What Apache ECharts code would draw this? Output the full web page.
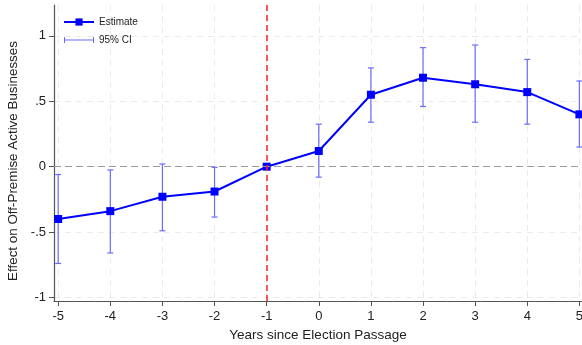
<!DOCTYPE html>
<html>
<head>
<meta charset="utf-8">
<script src="https://cdn.jsdelivr.net/npm/echarts@6/dist/echarts.min.js"></script>
<style>
  html, body { margin: 0; padding: 0; background: #fff; }
  #chart { width: 582px; height: 345px; }
</style>
</head>
<body>
<div id="chart"></div>
<script>
// Event-study estimates: years relative to election passage
const years = [-5, -4, -3, -2, -1, 0, 1, 2, 3, 4, 5];
const estimate = [-0.40, -0.34, -0.23, -0.19, 0.00, 0.12, 0.55, 0.68, 0.63, 0.57, 0.40];
const ciLower = [-0.74, -0.66, -0.49, -0.385, 0.00, -0.08, 0.34, 0.46, 0.34, 0.325, 0.15];
const ciUpper = [-0.06, -0.025, 0.02, -0.005, 0.00, 0.325, 0.755, 0.91, 0.93, 0.82, 0.655];
const yTicks = [-1, -0.5, 0, 0.5, 1];
const eventYear = -1;

const estData = years.map((x, i) => [x, estimate[i]]);
const ciData = years.map((x, i) => [x, ciLower[i], ciUpper[i]]);

const font = 'Liberation Sans, Arial, sans-serif';
const chart = echarts.init(document.getElementById('chart'), null, { renderer: 'canvas' });

// Stata-style tick labels: ".5" instead of "0.5"
function fmtY(v) {
  if (v === 0) return '0';
  return String(v).replace('0.', '.');
}

chart.setOption({
  animation: false,
  textStyle: { fontFamily: font },
  grid: { left: 54, right: 0, top: 5, bottom: 44, containLabel: false, outerBoundsMode: 'none' },
  legend: {
    left: 63, top: 17, orient: 'vertical', itemGap: 8, padding: 0,
    itemWidth: 30, itemHeight: 9,
    textStyle: { fontFamily: font, fontSize: 10, color: '#222' },
    data: [
      { name: 'Estimate' },
      {
        name: '95% CI',
        icon: 'path://M0,1h1v6h-1z M0,3.6h30v0.8h-30z M29,1h1v6h-1z',
        itemStyle: { color: '#6a6aff' }
      }
    ]
  },
  xAxis: {
    type: 'value', min: -5.08, max: 5.05,
    name: 'Years since Election Passage', nameLocation: 'middle', nameGap: 26,
    nameTextStyle: { fontFamily: font, fontSize: 13.5, color: '#222' },
    axisLine: { show: true, onZero: false, lineStyle: { color: '#555', width: 1.2 } },
    axisTick: { show: true, length: 5, customValues: years, lineStyle: { color: '#555' } },
    axisLabel: { customValues: years, fontFamily: font, fontSize: 13, color: '#222', margin: 9 },
    splitLine: { show: true, lineStyle: { color: '#ebebeb', type: [6, 5], width: 1 } }
  },
  yAxis: {
    type: 'value', min: -1.027, max: 1.236,
    name: 'Effect on Off-Premise Active Businesses', nameLocation: 'middle', nameGap: 34,
    nameTextStyle: { fontFamily: font, fontSize: 13.4, color: '#222', padding: [0, 16, 0, 0] },
    axisLine: { show: true, onZero: false, lineStyle: { color: '#555', width: 1.2 } },
    axisTick: { show: true, length: 5, customValues: yTicks, lineStyle: { color: '#555' } },
    axisLabel: { customValues: yTicks, formatter: fmtY, fontFamily: font, fontSize: 13, color: '#222', margin: 8 },
    splitLine: { show: true, lineStyle: { color: '#ebebeb', type: [6, 5], width: 1 } }
  },
  series: [
    {
      name: '95% CI',
      type: 'custom',
      data: ciData,
      z: 2,
      itemStyle: { color: '#6a6aff' },
      renderItem: function (params, api) {
        const x = api.value(0);
        const lo = api.coord([x, api.value(1)]);
        const hi = api.coord([x, api.value(2)]);
        const cap = 3;
        const style = { stroke: '#6a6aff', lineWidth: 1.2, fill: null };
        return {
          type: 'group',
          children: [
            { type: 'line', shape: { x1: lo[0], y1: lo[1], x2: hi[0], y2: hi[1] }, style: style },
            { type: 'line', shape: { x1: lo[0] - cap, y1: lo[1], x2: lo[0] + cap, y2: lo[1] }, style: style },
            { type: 'line', shape: { x1: hi[0] - cap, y1: hi[1], x2: hi[0] + cap, y2: hi[1] }, style: style }
          ]
        };
      }
    },
    {
      name: 'Estimate',
      type: 'line',
      data: estData,
      z: 3,
      symbol: 'rect', symbolSize: 8,
      itemStyle: { color: '#0000ff' },
      lineStyle: { color: '#0000ff', width: 2 },
      markLine: {
        silent: true, symbol: 'none', label: { show: false },
        data: [
          { yAxis: 0, lineStyle: { color: '#9a9a9a', type: [7, 4], width: 1.2 } },
          { xAxis: eventYear, lineStyle: { color: '#ff2020', type: [6, 4], width: 1.5 } }
        ]
      }
    }
  ]
});
</script>
</body>
</html>
